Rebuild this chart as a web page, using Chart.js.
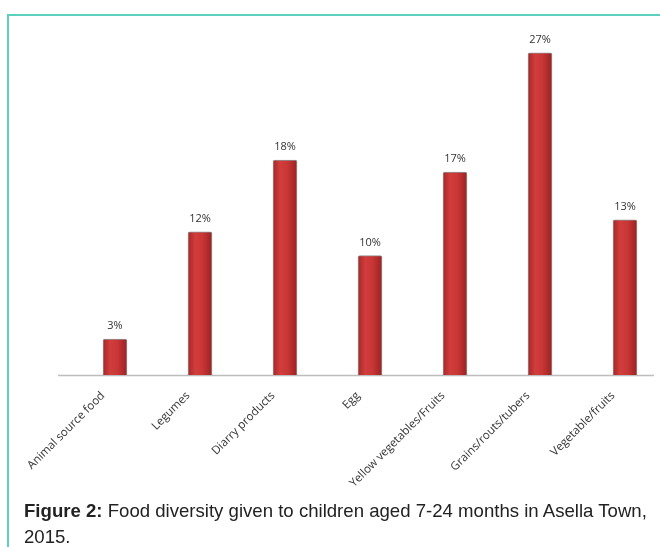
<!DOCTYPE html>
<html lang="en">
<head>
  <meta charset="UTF-8">
  <title>Food diversity</title>
  <script src="https://cdn.jsdelivr.net/npm/chart.js"></script>
  <style>
    body { margin: 0; width: 660px; height: 547px; overflow: hidden; background: #fff; position: relative; }
    .frame { position: absolute; left: 7px; top: 14px; width: 700px; height: 600px;
             border-left: 2px solid #5ccfbf; border-top: 2px solid #5ccfbf; }
    .chart-box { position: absolute; left: 0; top: 0; width: 680px; height: 520px; }
    .caption { position: absolute; left: 24px; top: 498px; width: 632px;
               font-family: "Liberation Sans", Arial, sans-serif; font-size: 18.6px; line-height: 26px; color: #222; }
  </style>
</head>
<body>
  <div class="frame"></div>
  <div class="chart-box"><canvas id="foodChart" width="680" height="520"></canvas></div>
  <div class="caption"><b>Figure 2:</b> Food diversity given to children aged 7-24 months in Asella Town, 2015.</div>

  <script>
    // Daten
    const categories = ['Animal source food', 'Legumes', 'Diarry products', 'Egg',
                        'Yellow vegetables/Fruits', 'Grains/routs/tubers', 'Vegetable/fruits'];
    const percents = [3, 12, 18, 10, 17, 27, 13];
    const yMax = 30;

    // Balken mit horizontalem Verlauf (Rand dunkler)
    function barFill(ctx) {
      const chart = ctx.chart;
      if (!chart.chartArea || ctx.dataIndex === undefined) return '#c83a3a';
      const x = chart.scales.x.getPixelForValue(ctx.dataIndex);
      const half = 12;
      const g = chart.ctx.createLinearGradient(x - half, 0, x + half, 0);
      g.addColorStop(0, '#a82626');
      g.addColorStop(0.3, '#d13d3d');
      g.addColorStop(0.6, '#c93636');
      g.addColorStop(1, '#9c2222');
      return g;
    }

    const valueLabels = {
      id: 'valueLabels',
      afterDatasetsDraw(chart) {
        const c = chart.ctx;
        const meta = chart.getDatasetMeta(0);
        c.save();
        c.font = '11px "Open Sans", sans-serif';
        c.fillStyle = '#333';
        c.textAlign = 'center';
        c.textBaseline = 'middle';
        meta.data.forEach((bar, i) => {
          c.fillText(percents[i] + '%', bar.x, bar.y - 13);
        });
        c.restore();
      }
    };

    // Achsenlinie wie im Original (etwas nach links versetzt)
    const axisLine = {
      id: 'axisLine',
      beforeDatasetsDraw(chart) {
        const a = chart.chartArea;
        const c = chart.ctx;
        c.save();
        c.strokeStyle = '#bdbdbd';
        c.lineWidth = 1.5;
        c.beginPath();
        c.moveTo(a.left - 14.5, a.bottom + 0.5);
        c.lineTo(a.right - 13.5, a.bottom + 0.5);
        c.stroke();
        c.restore();
      }
    };

    new Chart(document.getElementById('foodChart'), {
      type: 'bar',
      data: {
        labels: categories,
        datasets: [{
          data: percents,
          backgroundColor: barFill,
          borderColor: 'rgba(110,110,110,0.75)',
          borderWidth: 1,
          borderRadius: { topLeft: 2, topRight: 2 },
          borderSkipped: 'bottom',
          barThickness: 24
        }]
      },
      options: {
        responsive: false,
        animation: false,
        layout: { padding: { left: 72.5, right: 12.5, top: 17, bottom: 0 } },
        plugins: { legend: { display: false }, tooltip: { enabled: false } },
        scales: {
          x: {
            grid: { display: false, drawTicks: false },
            border: { display: false },
            ticks: {
              minRotation: 45, maxRotation: 45, autoSkip: false,
              padding: 14, labelOffset: -12,
              color: '#333',
              font: { family: '"Open Sans", sans-serif', size: 11.5 }
            },
            afterFit(scale) { scale.height = 145; }
          },
          y: { display: false, min: 0, max: yMax }
        }
      },
      plugins: [axisLine, valueLabels]
    });
  </script>
</body>
</html>
